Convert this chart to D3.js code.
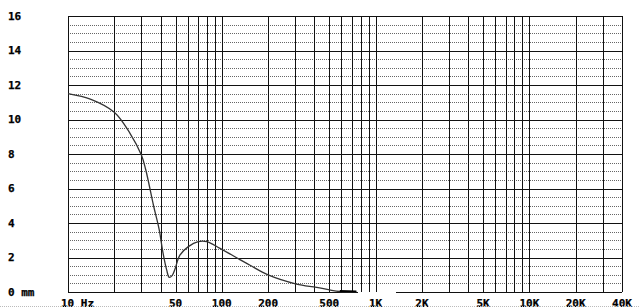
<!DOCTYPE html>
<html>
<head>
<meta charset="utf-8">
<script src="https://cdn.jsdelivr.net/npm/d3@7"></script>
<style>
  body { margin: 0; background: #fff; }
  svg { display: block; }
  text { font-family: "DejaVu Sans Mono", monospace; font-weight: bold; font-size: 11px; fill: #000; stroke: #000; stroke-width: 0.25px; }
</style>
</head>
<body>
<svg width="640" height="307"></svg>
<script>
var freqs = [10, 14.1, 20, 25.3, 30, 32, 36, 39.2, 41.3, 43.8, 45.5, 47.5, 49.7, 53.4, 60.6, 70.3, 79.8, 97.4, 131, 152.6, 200, 306, 414, 503, 585, 750];
var excursion = [11.5, 11.17, 10.42, 9.2, 7.94, 7.1, 5.0, 3.6, 2.35, 1.28, 0.85, 0.95, 1.35, 2.14, 2.63, 2.92, 2.92, 2.53, 1.88, 1.55, 0.99, 0.46, 0.27, 0.12, 0.03, 0];

var yTicks = [0, 2, 4, 6, 8, 10, 12, 14, 16];
var yLabels = ["0 mm", "2", "4", "6", "8", "10", "12", "14", "16"];
var yMinor = d3.range(0.5, 16, 0.5).filter(function(v) { return v % 2 != 0; });
var xGrid = [10, 20, 30, 40, 50, 60, 70, 80, 90, 100, 200, 300, 400, 500, 600, 700, 800, 900,
             1000, 2000, 3000, 4000, 5000, 6000, 7000, 8000, 9000, 10000, 20000, 30000, 40000];
var xTicks = [10, 50, 100, 200, 500, 1000, 2000, 5000, 10000, 20000, 40000];
var xLabels = ["10 Hz", "50", "100", "200", "500", "1K", "2K", "5K", "10K", "20K", "40K"];
var axisGap = [770, 1350];

var svg = d3.select("svg"),
    width = +svg.attr("width"),
    height = +svg.attr("height");

var x = d3.scaleLog().domain([10, 40000]).range([68, 622]);
var y = d3.scaleLinear().domain([0, 16]).range([292, 16]);

var grid = svg.append("g").attr("shape-rendering", "crispEdges");

grid.selectAll(".minor")
    .data(yMinor)
    .enter().append("line")
    .attr("x1", x(10)).attr("x2", x(40000))
    .attr("y1", function(d) { return Math.round(y(d)) + 0.5; })
    .attr("y2", function(d) { return Math.round(y(d)) + 0.5; })
    .attr("stroke", "#666")
    .attr("stroke-dasharray", "1,1");

grid.selectAll(".major")
    .data(yTicks.filter(function(d) { return d > 0; }))
    .enter().append("line")
    .attr("x1", x(10)).attr("x2", x(40000))
    .attr("y1", function(d) { return Math.round(y(d)) + 0.5; })
    .attr("y2", function(d) { return Math.round(y(d)) + 0.5; })
    .attr("stroke", "#111");

grid.selectAll(".vert")
    .data(xGrid)
    .enter().append("line")
    .attr("x1", function(d) { return Math.round(x(d)) + 0.5; })
    .attr("x2", function(d) { return Math.round(x(d)) + 0.5; })
    .attr("y1", y(16)).attr("y2", y(0))
    .attr("stroke", "#111");

// bottom edge, broken near 1K like the original
var bottom = [[10, axisGap[0]], [axisGap[1], 40000]];
grid.selectAll(".bottom")
    .data(bottom)
    .enter().append("line")
    .attr("x1", function(d) { return x(d[0]); })
    .attr("x2", function(d) { return x(d[1]); })
    .attr("y1", y(0) + 0.5).attr("y2", y(0) + 0.5)
    .attr("stroke", "#111");

var line = d3.line()
    .x(function(d, i) { return x(freqs[i]); })
    .y(function(d) { return y(d); })
    .curve(d3.curveCatmullRom.alpha(0.5));

svg.append("path")
    .datum(excursion)
    .attr("fill", "none")
    .attr("stroke", "#333")
    .attr("stroke-width", 1.3)
    .attr("d", line);

svg.append("path")
    .datum(excursion.slice(-2))
    .attr("fill", "none")
    .attr("stroke", "#000")
    .attr("stroke-width", 2)
    .attr("d", d3.line()
        .x(function(d, i) { return x(freqs[freqs.length - 2 + i]); })
        .y(function(d) { return y(d) - 0.5; }));

svg.selectAll(".ylab")
    .data(yTicks)
    .enter().append("text")
    .attr("x", 8)
    .attr("y", function(d) { return y(d); })
    .attr("dy", "0.36em")
    .style("white-space", "pre")
    .text(function(d, i) { return yLabels[i]; });

svg.selectAll(".xlab")
    .data(xTicks)
    .enter().append("text")
    .attr("x", function(d, i) { return i == 0 ? x(d) - 7 : x(d); })
    .attr("y", 307)
    .attr("text-anchor", function(d, i) { return i == 0 ? "start" : "middle"; })
    .text(function(d, i) { return xLabels[i]; });

svg.append("line")
    .attr("x1", 0).attr("x2", width)
    .attr("y1", height - 0.5).attr("y2", height - 0.5)
    .attr("stroke", "#bbb")
    .attr("stroke-dasharray", "1,1");
</script>
</body>
</html>
